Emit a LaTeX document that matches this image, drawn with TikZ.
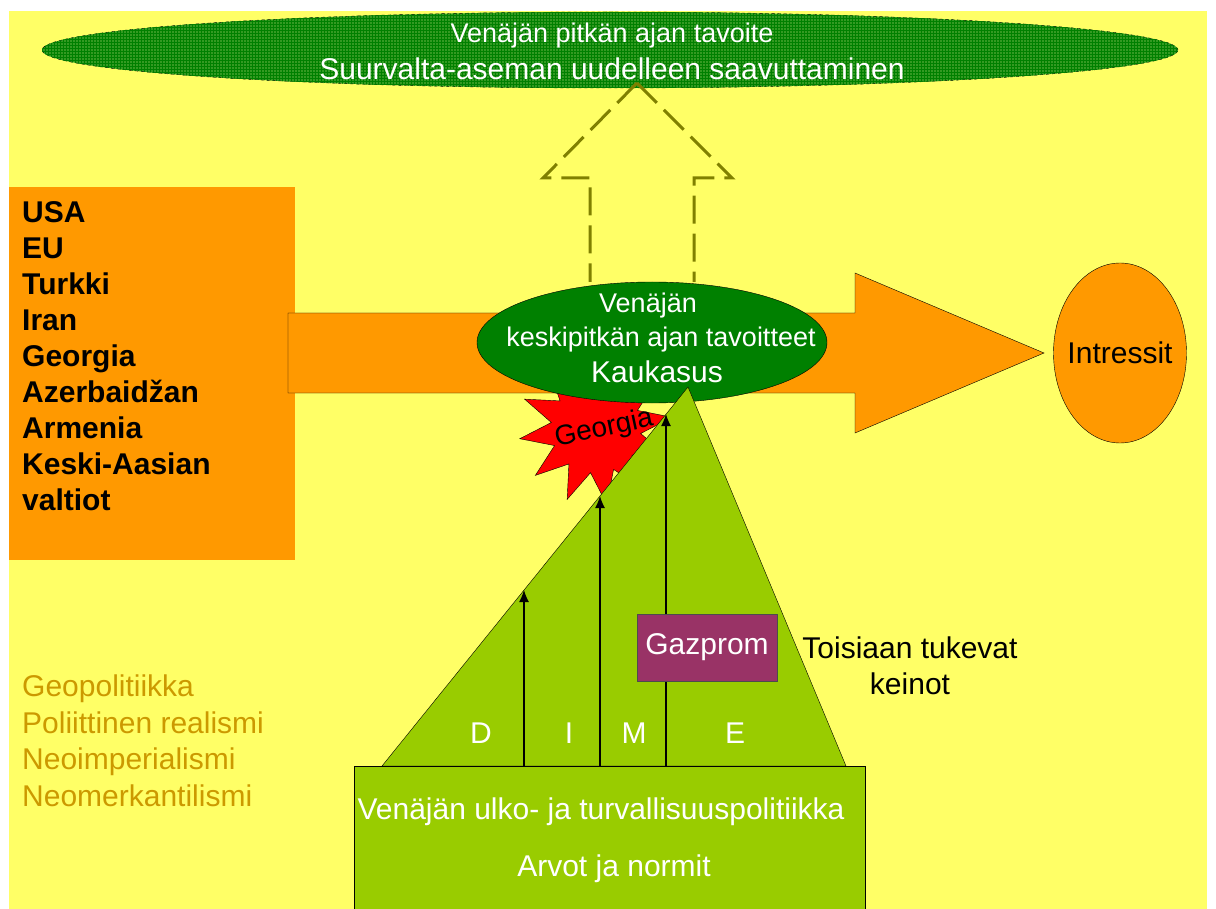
\documentclass[tikz,border=0pt]{standalone}
\usepackage{fontspec}
\setmainfont{Liberation Sans}
\usetikzlibrary{shapes.geometric,patterns,arrows.meta}
\definecolor{slidebg}{HTML}{FFFF66}
\definecolor{orangebox}{HTML}{FF9900}
\definecolor{darkgreen}{HTML}{008000}
\definecolor{goalgreen}{HTML}{349A22}
\definecolor{limegreen}{HTML}{99CC00}
\definecolor{plum}{HTML}{993366}
\definecolor{olivearrow}{HTML}{808000}
\definecolor{goldtext}{HTML}{CC9900}
\begin{document}
\begin{tikzpicture}[
                    x=1pt, y=-1pt,
                    bigtext/.style={font=\fontsize{30}{36}\selectfont, inner sep=0pt},
                    midtext/.style={font=\fontsize{27}{33}\selectfont, inner sep=0pt},
                    dimeline/.style={line width=1.3pt, -{Latex[length=12pt,width=10pt]}}
                ]
                % Background
                \clip (0,0) rectangle (1216,909);
                \fill[white] (0,0) rectangle (1216,909);
                \fill[slidebg] (9,11) rectangle (1207,909);

                % Long term goal
                \node [ellipse, draw, dashed, fill=goalgreen, postaction={pattern=grid, pattern color=darkgreen},
                       minimum width=1136pt, minimum height=76pt] (goal) at (610,50) {};
                \node [midtext, text=white, anchor=base] (goalA) at (612,43) {Venäjän pitkän ajan tavoite};
                \node [bigtext, text=white, anchor=base] (goalB) at (612,80) {Suurvalta-aseman uudelleen saavuttaminen};

                % Dashed hollow arrow
                \coordinate (tip) at (637,83);
                \draw [olivearrow, line width=3pt, dash pattern=on 28pt off 10pt] (tip) -- (543,178) -- (590,178) -- (590,282);
                \draw [olivearrow, line width=3pt, dash pattern=on 28pt off 10pt] (tip) -- (732,178) -- (694,178) -- (694,282);

                % Actors
                \node [fill=orangebox, minimum width=286pt, minimum height=373pt, anchor=north west] (actors) at (9,187) {};
                \node [bigtext, font=\fontsize{30}{36}\selectfont\bfseries, align=left, anchor=north west] (actorlist) at (22,201)
                      {USA\\EU\\Turkki\\Iran\\Georgia\\Azerbaidžan\\Armenia\\Keski-Aasian\\valtiot};

                % Georgia burst
                \coordinate (burst) at (596,428);
                \draw [fill=red, shift={(burst)}, rotate=8] (0:77)
                      \foreach \k in {1,...,23} { -- ({\k*15}:{ifthenelse(mod(\k,2)==0,77,45)}) } -- cycle;

                % Big orange arrow
                \draw [fill=orangebox] (288,313) -- (855,313) -- (855,273) -- (1044,353) -- (855,433) -- (855,393) -- (288,393) -- cycle;
                \node [ellipse, draw, fill=orangebox, minimum width=133pt, minimum height=180pt,
                       label={[bigtext]center:Intressit}] (interests) at (1120,353) {};

                % Medium term goal
                \node [ellipse, draw, fill=darkgreen, minimum width=350pt, minimum height=121pt] (midgoal) at (652,342.5) {};
                \node [midtext, text=white, anchor=base] (midA) at (648,313) {Venäjän};
                \node [midtext, text=white, anchor=base] (midB) at (661,347) {keskipitkän ajan tavoitteet};
                \node [bigtext, text=white, anchor=base] (midC) at (657,382) {Kaukasus};

                \node [font=\fontsize{28}{34}\selectfont, inner sep=0pt, rotate=12] (georgia) at (604,429) {Georgia};

                % DIME triangle
                \coordinate (apex) at (688,387);
                \coordinate (baseL) at (382,766);
                \coordinate (baseR) at (846,766);
                \draw [fill=limegreen] (baseL) -- (apex) -- (baseR) -- cycle;

                % Policy block
                \node [draw, fill=limegreen, minimum width=511pt, minimum height=160pt, anchor=north west] (policy) at (354,766) {};
                \node [bigtext, text=white, anchor=base] (policyA) at (601,819) {Venäjän ulko- ja turvallisuuspolitiikka};
                \node [bigtext, text=white, anchor=base] (policyB) at (614,876) {Arvot ja normit};

                % Connections
                \coordinate (dB) at (524,766);
                \coordinate (dT) at (524,590);
                \coordinate (iB) at (600,766);
                \coordinate (iT) at (600,496);
                \coordinate (mB) at (666,766);
                \coordinate (mT) at (666,414);
                \draw [dimeline] (dB) -- (dT);
                \draw [dimeline] (iB) -- (iT);
                \draw [dimeline] (mB) -- (mT);

                \node [draw=black!70, fill=plum, minimum width=140pt, minimum height=67pt, bigtext, text=white] (gazprom) at (707,647.5) {Gazprom};

                \node [bigtext, text=white, anchor=base] (D) at (481,743) {D};
                \node [bigtext, text=white, anchor=base] (I) at (569,743) {I};
                \node [bigtext, text=white, anchor=base] (M) at (634,743) {M};
                \node [bigtext, text=white, anchor=base] (E) at (735,743) {E};

                \node [bigtext, align=center, anchor=north] (means) at (910,637) {Toisiaan tukevat\\keinot};

                % Theories
                \node [bigtext, font=\fontsize{30}{36.5}\selectfont, text=goldtext, align=left, anchor=north west] (theories) at (22,675)
                      {Geopolitiikka\\Poliittinen realismi\\Neoimperialismi\\Neomerkantilismi};
            \end{tikzpicture}
\end{document}
